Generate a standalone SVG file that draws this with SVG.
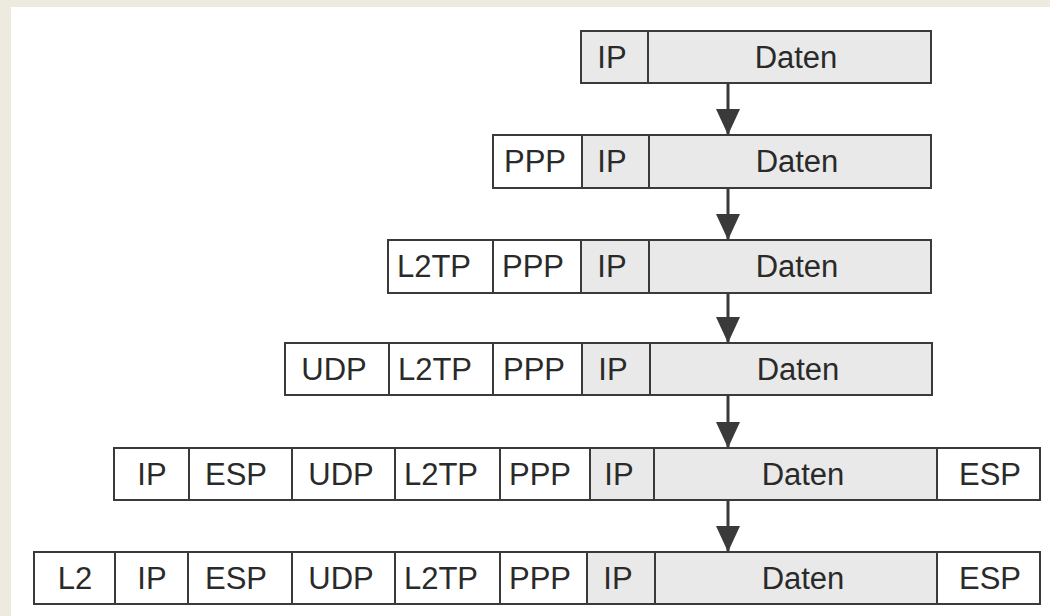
<svg xmlns="http://www.w3.org/2000/svg" width="1050" height="616" viewBox="0 0 1050 616">
<defs>
<style>
.c{fill:#ffffff;stroke:#3a3a3a;stroke-width:2}
.g{fill:#e9e9e9;stroke:#3a3a3a;stroke-width:2}
text{font-family:"Liberation Sans",Arial,sans-serif;font-size:31px;fill:#2a2a2a;text-anchor:middle}
.a{stroke:#3a3a3a;stroke-width:3;fill:none}
</style>
<marker id="ah" viewBox="0 0 26 24" markerWidth="26" markerHeight="24" refX="26" refY="12" orient="auto" markerUnits="userSpaceOnUse">
<path d="M0,0 L26,12 L0,24 z" fill="#3a3a3a"/>
</marker>
</defs>
<rect x="0" y="0" width="1050" height="616" fill="#edeae0"/>
<rect x="11" y="7" width="1039" height="609" fill="#ffffff"/>

<g id="row1">
<rect class="g" x="581" y="31" width="67" height="52"/>
<rect class="g" x="648" y="31" width="283" height="52"/>
<text x="612" y="68">IP</text>
<text x="796" y="68">Daten</text>
</g>

<g id="row2">
<rect class="c" x="493" y="135" width="89" height="53"/>
<rect class="g" x="582" y="135" width="67" height="53"/>
<rect class="g" x="649" y="135" width="282" height="53"/>
<text x="535" y="172">PPP</text>
<text x="612" y="172">IP</text>
<text x="797" y="172">Daten</text>
</g>

<g id="row3">
<rect class="c" x="388" y="240" width="105" height="53"/>
<rect class="c" x="493" y="240" width="88" height="53"/>
<rect class="g" x="581" y="240" width="68" height="53"/>
<rect class="g" x="649" y="240" width="282" height="53"/>
<text x="434" y="277">L2TP</text>
<text x="533" y="277">PPP</text>
<text x="612" y="277">IP</text>
<text x="797" y="277">Daten</text>
</g>

<g id="row4">
<rect class="c" x="285" y="343" width="104" height="52"/>
<rect class="c" x="389" y="343" width="104" height="52"/>
<rect class="c" x="493" y="343" width="89" height="52"/>
<rect class="g" x="582" y="343" width="68" height="52"/>
<rect class="g" x="650" y="343" width="282" height="52"/>
<text x="334" y="380">UDP</text>
<text x="435" y="380">L2TP</text>
<text x="534" y="380">PPP</text>
<text x="613" y="380">IP</text>
<text x="798" y="380">Daten</text>
</g>

<g id="row5">
<rect class="c" x="114" y="448" width="75" height="52"/>
<rect class="c" x="189" y="448" width="103" height="52"/>
<rect class="c" x="292" y="448" width="103" height="52"/>
<rect class="c" x="395" y="448" width="105" height="52"/>
<rect class="c" x="500" y="448" width="90" height="52"/>
<rect class="g" x="590" y="448" width="64" height="52"/>
<rect class="g" x="654" y="448" width="283" height="52"/>
<rect class="c" x="937" y="448" width="103" height="52"/>
<text x="152" y="485">IP</text>
<text x="236" y="485">ESP</text>
<text x="341" y="485">UDP</text>
<text x="441" y="485">L2TP</text>
<text x="540" y="485">PPP</text>
<text x="619" y="485">IP</text>
<text x="803" y="485">Daten</text>
<text x="990" y="485">ESP</text>
</g>

<g id="row6">
<rect class="c" x="34" y="552" width="81" height="52"/>
<rect class="c" x="115" y="552" width="73" height="52"/>
<rect class="c" x="188" y="552" width="104" height="52"/>
<rect class="c" x="292" y="552" width="103" height="52"/>
<rect class="c" x="395" y="552" width="105" height="52"/>
<rect class="c" x="500" y="552" width="87" height="52"/>
<rect class="g" x="587" y="552" width="68" height="52"/>
<rect class="g" x="655" y="552" width="282" height="52"/>
<rect class="c" x="937" y="552" width="103" height="52"/>
<text x="75" y="589">L2</text>
<text x="152" y="589">IP</text>
<text x="236" y="589">ESP</text>
<text x="341" y="589">UDP</text>
<text x="441" y="589">L2TP</text>
<text x="540" y="589">PPP</text>
<text x="618" y="589">IP</text>
<text x="803" y="589">Daten</text>
<text x="990" y="589">ESP</text>
</g>

<g id="connectors">
<line class="a" x1="728" y1="83" x2="728" y2="135" marker-end="url(#ah)"/>
<line class="a" x1="728" y1="188" x2="728" y2="240" marker-end="url(#ah)"/>
<line class="a" x1="728" y1="293" x2="728" y2="343" marker-end="url(#ah)"/>
<line class="a" x1="728" y1="395" x2="728" y2="448" marker-end="url(#ah)"/>
<line class="a" x1="728" y1="500" x2="728" y2="552" marker-end="url(#ah)"/>
</g>
</svg>
